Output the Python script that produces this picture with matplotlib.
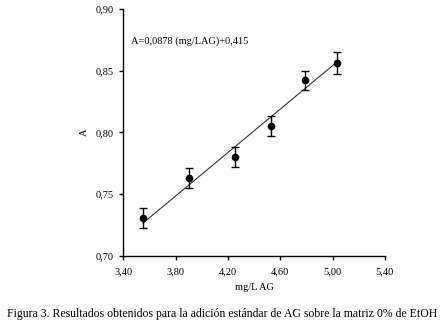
import numpy as np
import matplotlib.pyplot as plt
from matplotlib.ticker import FuncFormatter

# data
conc = [3.55, 3.90, 4.25, 4.53, 4.79, 5.03]          # mg/L AG
absorb = [0.731, 0.763, 0.780, 0.805, 0.842, 0.856]  # A
err = [0.008, 0.008, 0.008, 0.008, 0.008, 0.009]
slope, intercept = 0.0878, 0.415
xticks = [3.40, 3.80, 4.20, 4.60, 5.00, 5.40]
yticks = [0.70, 0.75, 0.80, 0.85, 0.90]

plt.rcParams['font.family'] = ['Liberation Serif', 'DejaVu Serif']

fig = plt.figure(figsize=(4.45, 3.26), dpi=100)
ax = fig.add_axes([0.2775, 0.2147, 0.5875, 0.7586])

xl = np.array([conc[0], conc[-1]])
ax.plot(xl, slope * xl + intercept, color='#333333', lw=0.8)
ax.errorbar(conc, absorb, yerr=err, fmt='o', color='black', ms=4.5,
            capsize=3, elinewidth=1, capthick=1)

ax.set_xlim(3.40, 5.40)
ax.set_ylim(0.70, 0.90)
ax.set_xticks(xticks)
ax.set_yticks(yticks)
comma = FuncFormatter(lambda v, p: ('%.2f' % v).replace('.', ','))
ax.xaxis.set_major_formatter(comma)
ax.yaxis.set_major_formatter(comma)
ax.tick_params(direction='out', length=3, width=1, labelsize=7.5)
ax.tick_params(axis='y', pad=4)
ax.tick_params(axis='x', pad=5)
for s in ['top', 'right']:
    ax.spines[s].set_visible(False)
for s in ['left', 'bottom']:
    ax.spines[s].set_linewidth(1)

ax.set_xlabel('mg/L AG', fontsize=7.5, labelpad=5)
ax.set_ylabel('A', fontsize=7.5, labelpad=5)
ax.text(0.03, 0.87, 'A=0,0878 (mg/LAG)+0,415', transform=ax.transAxes,
        fontsize=7.5, va='center')

fig.text(0.5, 0.038, 'Figura 3. Resultados obtenidos para la adición estándar de AG sobre la matriz 0% de EtOH',
         ha='center', va='center', fontsize=8.5)

fig.savefig('out.png', dpi=100)
